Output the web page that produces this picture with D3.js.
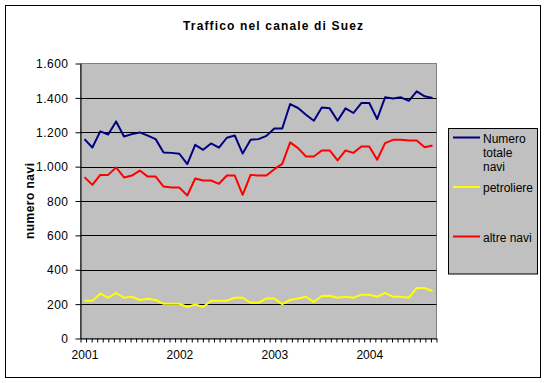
<!DOCTYPE html>
<html><head><meta charset="utf-8">
<script src="https://cdn.jsdelivr.net/npm/d3@7"></script>
<style>
body{margin:0;background:#fff}
text{font-family:"Liberation Sans",Arial,sans-serif;fill:#000}
</style>
</head><body>
<svg id="c" width="548" height="383"></svg>
<script>
// ---- data ----
const months = d3.range(45).map(i => `${2001 + Math.floor(i / 12)}-${String(i % 12 + 1).padStart(2, "0")}`);
const totale = [1160,1111,1205,1187,1263,1175,1189,1199,1180,1160,
                1082,1080,1075,1015,1127,1098,1135,1110,1168,1181,
                1076,1156,1160,1179,1222,1222,1364,1341,1302,1267,
                1344,1339,1267,1339,1312,1370,1370,1277,1403,1397,
                1403,1383,1438,1409,1399];
const petroliere = [220,220,261,237,266,237,243,224,231,224,
                    202,202,202,183,198,183,220,220,220,237,
                    237,208,208,233,233,200,224,233,243,212,
                    247,249,237,243,237,255,255,243,266,243,
                    243,237,294,294,276];
const altre = [939,894,952,952,995,937,948,977,942,942,
               884,878,878,832,931,919,919,900,948,948,
               836,952,948,948,985,1016,1141,1108,1059,1059,
               1094,1094,1036,1094,1080,1117,1117,1040,1137,1156,
               1156,1152,1152,1113,1123];
const yTicks = [0,200,400,600,800,1000,1200,1400,1600];
const yearLabels = ["2001","2002","2003","2004"];
const seriesNames = [["Numero","totale","navi"],["petroliere"],["altre navi"]];
const title = "Traffico nel canale di Suez";
const yTitle = "numero navi";

// ---- layout ----
const svg = d3.select("#c");
const L = 80.5, R = 436.5, T = 63.5, B = 338.5;
const itLocale = d3.formatLocale({decimal: ",", thousands: ".", grouping: [3], currency: ["€", ""]});
const fmt = itLocale.format(",d");

const x = d3.scalePoint().domain(months).range([L, R]).padding(0.5);
const y = d3.scaleLinear().domain([0, 1600]).range([B, T]);
const minor = d3.scaleLinear().domain([0, 64]).range([L, R]);

// chart border
svg.append("rect").attr("x", 5.5).attr("y", 5.5).attr("width", 535).attr("height", 372)
  .attr("fill", "#fff").attr("stroke", "#000");

// title
svg.append("text").attr("x", 273).attr("y", 29.5).attr("text-anchor", "middle")
  .attr("font-size", 12).attr("font-weight", "bold")
  .attr("textLength", 180).attr("lengthAdjust", "spacing").text(title);

// plot area
svg.append("rect").attr("x", L).attr("y", T).attr("width", R - L).attr("height", B - T)
  .attr("fill", "#C0C0C0").attr("stroke", "#808080");

// gridlines
svg.append("g").selectAll("line").data(yTicks.filter(v => v > 0 && v < 1600)).join("line")
  .attr("x1", L).attr("x2", R).attr("y1", d => Math.round(y(d)) + 0.5).attr("y2", d => Math.round(y(d)) + 0.5)
  .attr("stroke", "#000");

// series
const series = [
  {vals: totale, color: "#000080"},
  {vals: petroliere, color: "#FFFF00"},
  {vals: altre, color: "#FF0000"}
];
const line = d3.line().x((d, i) => x(months[i])).y(d => y(d));
svg.append("g").selectAll("path").data(series).join("path")
  .attr("d", s => line(s.vals)).attr("fill", "none")
  .attr("stroke", s => s.color).attr("stroke-width", 2).attr("stroke-linejoin", "round");

// y axis
const yAxis = svg.append("g").attr("transform", `translate(${L},0)`)
  .call(d3.axisLeft(y).tickValues(yTicks).tickFormat(fmt).tickSize(5).tickSizeOuter(0).tickPadding(7));
yAxis.select(".domain").attr("stroke", "#000");
yAxis.selectAll(".tick line").attr("stroke", "#000");
yAxis.selectAll("text").attr("font-size", 12).attr("font-family", "Liberation Sans, Arial, sans-serif")
  .attr("letter-spacing", "0.5px").attr("dy", "0.35em");

// x axis minor ticks
const xAxis = svg.append("g").attr("transform", `translate(0,${B})`)
  .call(d3.axisBottom(minor).tickValues(d3.range(0, 65)).tickFormat("").tickSize(4).tickSizeOuter(0));
xAxis.select(".domain").attr("stroke", "#000");
xAxis.selectAll(".tick line").attr("stroke", "#000");

// year labels
const janMonths = months.filter(m => m.endsWith("-01"));
const yearAxis = svg.append("g").attr("transform", `translate(0,${B})`)
  .call(d3.axisBottom(x).tickValues(janMonths).tickFormat((d, i) => yearLabels[i]).tickSize(0).tickPadding(12));
yearAxis.select(".domain").remove();
yearAxis.selectAll("text").attr("font-size", 12).attr("font-family", "Liberation Sans, Arial, sans-serif");

// y title
svg.append("text").attr("transform", `translate(34,${(T + B) / 2}) rotate(-90)`)
  .attr("text-anchor", "middle").attr("font-size", 12).attr("font-weight", "bold")
  .attr("textLength", 76).attr("lengthAdjust", "spacing").text(yTitle);

// legend
const lg = svg.append("g");
lg.append("rect").attr("x", 448.5).attr("y", 128.5).attr("width", 89).attr("height", 145.5)
  .attr("fill", "#C0C0C0").attr("stroke", "#000");
const legendY = [137.5, 187, 236.5];
series.forEach((s, i) => {
  lg.append("line").attr("x1", 453).attr("x2", 480).attr("y1", legendY[i]).attr("y2", legendY[i])
    .attr("stroke", s.color).attr("stroke-width", 2);
  const t = lg.append("text").attr("x", 483).attr("y", legendY[i] + 5).attr("font-size", 12);
  seriesNames[i].forEach((w, j) => {
    t.append("tspan").attr("x", 483).attr("dy", j === 0 ? 0 : 14.3).text(w);
  });
});
</script>
</body></html>
